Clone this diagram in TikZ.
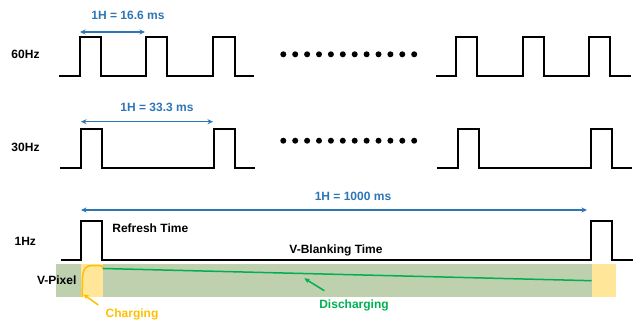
\documentclass[tikz,border=0pt]{standalone}
\usepackage{fontspec}
\setmainfont{Liberation Sans}
\usetikzlibrary{arrows.meta}
\definecolor{dimblue}{RGB}{46,117,182}
\definecolor{dischgreen}{RGB}{0,176,80}
\definecolor{chorange}{RGB}{255,192,0}
\definecolor{bandyellow}{RGB}{255,230,153}
\definecolor{bandgreen}{RGB}{191,208,174}
\tikzset{
  wave/.style={line width=2pt, line join=miter, black},
  dimarrow/.style={dimblue, line width=1.5pt, {Stealth[length=5.5pt,width=5pt]}-{Stealth[length=5.5pt,width=5pt]}},
  lbl/.style={font=\fontsize{12}{14}\selectfont\bfseries, anchor=base, inner sep=0pt},
  dimlbl/.style={lbl, text=dimblue},
  dotmark/.style={fill=black, draw=none},
  callout/.style={line width=1.5pt, -{Stealth[length=5.5pt,width=5pt]}}
}
\begin{document}
\begin{tikzpicture}[x=1pt,y=-1pt]
\useasboundingbox (0,0) rectangle (636,321);

% ---------- 60 Hz ----------
\node[lbl] (l60) at (25.5,58.3) {60Hz};
\draw[wave] (59,76) -- (80,76) -- (80,37) -- (101,37) -- (101,76) -- (146,76) -- (146,37) -- (167,37) -- (167,76)
  -- (213,76) -- (213,37) -- (235,37) -- (235,76) -- (254,76);
\draw[wave] (436,76) -- (456,76) -- (456,37) -- (477,37) -- (477,76) -- (523,76) -- (523,37) -- (544,37) -- (544,76)
  -- (589,76) -- (589,37) -- (610,37) -- (610,76) -- (631,76);
\coordinate (a60l) at (80,32);
\coordinate (a60r) at (145,32);
\draw[dimarrow] (a60l) -- (a60r);
\node[dimlbl] (t60) at (128,19.3) {1H = 16.6 ms};
\foreach \i in {0,...,11} {
  \fill[dotmark] ({283.3+\i*11.9},54.3) circle (3);
}

% ---------- 30 Hz ----------
\node[lbl] (l30) at (25.5,151.6) {30Hz};
\draw[wave] (60,167.5) -- (81,167.5) -- (81,129) -- (102,129) -- (102,167.5) -- (214,167.5) -- (214,129) -- (235,129)
  -- (235,167.5) -- (255,167.5);
\draw[wave] (437,167.5) -- (457.5,167.5) -- (457.5,129) -- (478.5,129) -- (478.5,167.5) -- (591,167.5) -- (591,129)
  -- (612,129) -- (612,167.5) -- (632,167.5);
\coordinate (a30l) at (81,121.7);
\coordinate (a30r) at (213,121.7);
\draw[dimarrow] (a30l) -- (a30r);
\node[dimlbl] (t30) at (157,111.3) {1H = 33.3 ms};
\foreach \i in {0,...,11} {
  \fill[dotmark] ({283.3+\i*11.9},140.7) circle (3);
}

% ---------- V-Pixel band ----------
\fill[bandgreen] (55.7,263.5) rectangle (591.7,297);
\fill[bandyellow] (81,263.5) rectangle (103,297);
\fill[bandyellow] (591.7,263.5) rectangle (615.7,297);

% ---------- 1 Hz ----------
\node[lbl] (l1) at (25.3,245) {1Hz};
\draw[wave] (60.7,260) -- (81,260) -- (81,221) -- (102,221) -- (102,260) -- (591,260) -- (591,221) -- (612,221)
  -- (612,260) -- (633,260);
\coordinate (a1l) at (81,210);
\coordinate (a1r) at (587,210);
\draw[dimarrow] (a1l) -- (a1r);
\node[dimlbl] (t1) at (353,200.5) {1H = 1000 ms};
\node[lbl] (refresh) at (150.3,232.6) {Refresh Time};
\node[lbl] (vblank) at (336,253.6) {V-Blanking Time};
\node[lbl] (vpix) at (56.7,284.3) {V-Pixel};

% charging curve
\draw[chorange, line width=1.5pt, line cap=round]
  (82,296.5) -- (82.5,279) .. controls (83,268) and (86,265.5) .. (92,265.5) -- (100,265.5)
  .. controls (102,265.5) and (103,267) .. (103,268.5);
% discharging line
\coordinate (dstart) at (103,268.5);
\coordinate (dend) at (591.7,280.7);
\draw[dischgreen, line width=1.5pt] (dstart) -- (dend);

% callouts
\node[lbl, text=chorange] (charging) at (132,317.5) {Charging};
\coordinate (chfrom) at (98.3,305);
\coordinate (chto) at (83.3,294.3);
\draw[callout, chorange] (chfrom) -- (chto);
\node[lbl, text=dischgreen] (discharging) at (354,308) {Discharging};
\coordinate (dfrom) at (324.3,290.7);
\coordinate (dto) at (304.3,278.3);
\draw[callout, dischgreen] (dfrom) -- (dto);
\end{tikzpicture}
\end{document}
